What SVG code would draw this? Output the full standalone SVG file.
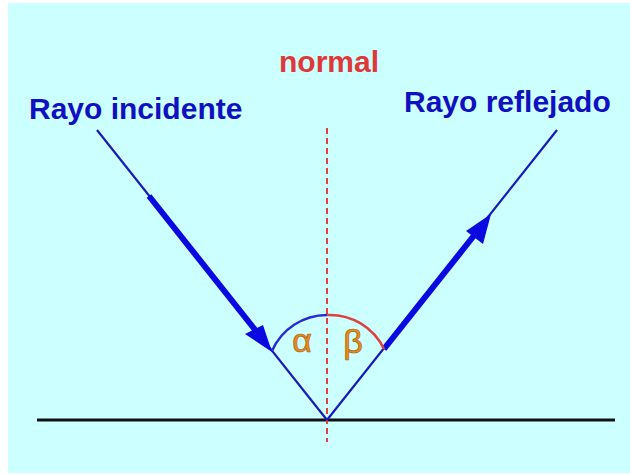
<svg xmlns="http://www.w3.org/2000/svg" width="630" height="475" viewBox="0 0 630 475">
<style>
.lbl{font-family:"Liberation Sans",Arial,sans-serif;font-weight:bold;font-size:30px;fill:#1010c0}
.norm{font-family:"Liberation Sans",Arial,sans-serif;font-weight:bold;font-size:30px;fill:#e03838}
.greek{font-family:"Liberation Sans","DejaVu Sans",sans-serif;font-size:34px;fill:#ec8a18;stroke:#a8600e;stroke-width:0.7}
.thin{stroke:#1a1ab8;stroke-width:2.2;fill:none}
.thick{stroke:#0a0ae0;stroke-width:6;fill:none}
.head{fill:#0a0ae0}
</style>
<rect x="0" y="0" width="630" height="475" fill="#ffffff"/>
<rect x="8" y="3" width="622" height="470" fill="#ccffff"/>
<g id="ground"><line x1="37" y1="420" x2="615" y2="420" stroke="#111111" stroke-width="3"/></g>
<g id="normal-line"><line x1="327" y1="128" x2="327" y2="442" stroke="#e04040" stroke-width="2" stroke-dasharray="6,4"/></g>
<g id="connectors">
<line class="thin" x1="97" y1="130" x2="327" y2="420"/>
<line class="thin" x1="327" y1="420" x2="557" y2="130"/>
<line class="thick" x1="149" y1="196" x2="256" y2="331"/>
<polygon class="head" points="272,352 245,334 263,325"/>
<line class="thick" x1="384" y1="349" x2="476" y2="233"/>
<polygon class="head" points="491,214 483,244 466,231"/>
</g>
<g id="angles">
<path d="M272,351 A60,60 0 0 1 327,315" stroke="#2a2ad0" stroke-width="2.5" fill="none"/>
<path d="M327,315 A60,60 0 0 1 384,349" stroke="#e04040" stroke-width="2.5" fill="none"/>
</g>
<g id="alpha"><text class="greek" x="302" y="352" text-anchor="middle">α</text></g>
<g id="beta"><text class="greek" x="353" y="353" text-anchor="middle">β</text></g>
<g id="label-normal"><text class="norm" x="329" y="72" text-anchor="middle">normal</text></g>
<g id="label-incidente"><text class="lbl" x="29" y="119">Rayo incidente</text></g>
<g id="label-reflejado"><text class="lbl" x="404" y="112">Rayo reflejado</text></g>
</svg>
